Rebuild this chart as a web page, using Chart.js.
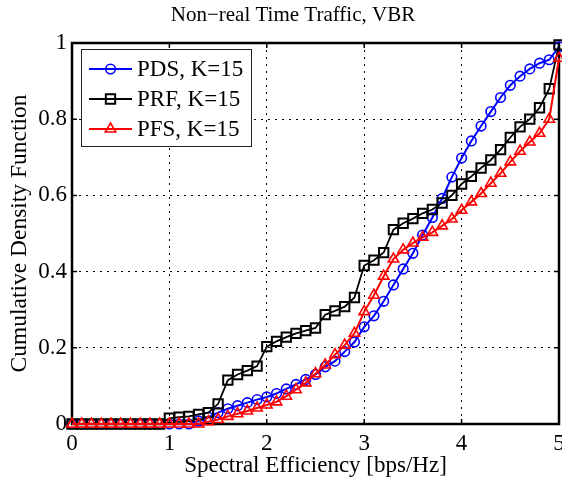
<!DOCTYPE html>
<html>
<head>
<meta charset="utf-8">
<script src="https://cdn.jsdelivr.net/npm/chart.js@4.4.1/dist/chart.umd.min.js"></script>
<style>
  html, body { margin: 0; padding: 0; background: #fff; }
  #wrap { width: 562px; height: 481px; }
</style>
</head>
<body>
<div id="wrap"><canvas id="cdfChart" width="562" height="481"></canvas></div>
<script>
// Chart data
const chartTitle = "Non\u2212real Time Traffic, VBR";
const xAxisTitle = "Spectral Efficiency [bps/Hz]";
const yAxisTitle = "Cumulative Density Function";
const seriesLabels = ["PDS, K=15", "PRF, K=15", "PFS, K=15"];
const xTicks = [0, 1, 2, 3, 4, 5];
const yTicks = [0, 0.2, 0.4, 0.6, 0.8, 1];

const spectralEfficiency = [
  0.0, 0.1, 0.2, 0.3, 0.4, 0.5, 0.6, 0.7, 0.8, 0.9,
  1.0, 1.1, 1.2, 1.3, 1.4, 1.5, 1.6, 1.7, 1.8, 1.9,
  2.0, 2.1, 2.2, 2.3, 2.4, 2.5, 2.6, 2.7, 2.8, 2.9,
  3.0, 3.1, 3.2, 3.3, 3.4, 3.5, 3.6, 3.7, 3.8, 3.9,
  4.0, 4.1, 4.2, 4.3, 4.4, 4.5, 4.6, 4.7, 4.8, 4.9,
  5.0
];
const pdsCdf = [
  0, 0, 0, 0, 0, 0, 0, 0, 0, 0,
  0, 0, 0, 0.008, 0.018, 0.03, 0.04, 0.048, 0.056, 0.064,
  0.071, 0.08, 0.092, 0.104, 0.117, 0.13, 0.15, 0.165, 0.19, 0.215,
  0.255, 0.284, 0.322, 0.365, 0.407, 0.448, 0.496, 0.542, 0.592, 0.648,
  0.698, 0.743, 0.782, 0.82, 0.857, 0.889, 0.913, 0.932, 0.947, 0.956,
  0.99
];
const prfCdf = [
  0, 0, 0, 0, 0, 0, 0, 0, 0, 0,
  0.015, 0.018, 0.02, 0.025, 0.03, 0.053, 0.115, 0.13, 0.14, 0.152,
  0.203, 0.217, 0.228, 0.238, 0.245, 0.252, 0.287, 0.297, 0.308, 0.332,
  0.416, 0.43, 0.45, 0.51, 0.527, 0.539, 0.553, 0.563, 0.58, 0.6,
  0.63, 0.65, 0.672, 0.693, 0.72, 0.752, 0.78, 0.8, 0.83, 0.88,
  0.995
];
const pfsCdf = [
  0, 0, 0, 0, 0, 0, 0, 0, 0, 0,
  0, 0, 0, 0, 0.006, 0.012, 0.02, 0.027, 0.034, 0.042,
  0.05, 0.058, 0.073, 0.09, 0.108, 0.132, 0.155, 0.182, 0.207, 0.238,
  0.295, 0.338, 0.388, 0.433, 0.457, 0.475, 0.49, 0.503, 0.52, 0.538,
  0.561, 0.583, 0.605, 0.632, 0.658, 0.688, 0.716, 0.74, 0.763, 0.8,
  0.96
];

const serif = "'Liberation Serif', 'Times New Roman', serif";

const toPoints = (ys) => spectralEfficiency.map((x, i) => ({ x: x, y: ys[i] }));

// Title drawn over the axes, MATLAB style
const titlePlugin = {
  id: 'matlabTitle',
  afterDraw(chart) {
    const ctx = chart.ctx;
    ctx.save();
    ctx.font = "21px " + serif;
    ctx.fillStyle = '#000';
    ctx.textAlign = 'center';
    ctx.textBaseline = 'middle';
    ctx.fillText(chartTitle, 293, 15);
    ctx.restore();
  }
};

// Axes box and inward tick marks
const boxPlugin = {
  id: 'matlabBox',
  beforeDatasetsDraw(chart) {
    const { ctx, chartArea: a, scales: { x, y } } = chart;
    ctx.save();
    ctx.strokeStyle = '#000';
    ctx.lineWidth = 1.5;
    ctx.beginPath();
    x.ticks.forEach(t => {
      const px = x.getPixelForValue(t.value);
      ctx.moveTo(px, a.bottom); ctx.lineTo(px, a.bottom - 5);
      ctx.moveTo(px, a.top); ctx.lineTo(px, a.top + 5);
    });
    y.ticks.forEach(t => {
      const py = y.getPixelForValue(t.value);
      ctx.moveTo(a.left, py); ctx.lineTo(a.left + 5, py);
      ctx.moveTo(a.right, py); ctx.lineTo(a.right - 5, py);
    });
    ctx.stroke();
    ctx.lineWidth = 2.5;
    ctx.strokeRect(a.left, a.top, a.right - a.left, a.bottom - a.top);
    ctx.restore();
  }
};

// Boxed legend in the upper left corner
const legendPlugin = {
  id: 'matlabLegend',
  afterDatasetsDraw(chart) {
    const ctx = chart.ctx;
    const left = 81, top = 49, w = 170, h = 97;
    ctx.save();
    ctx.fillStyle = '#fff';
    ctx.fillRect(left, top, w, h);
    ctx.strokeStyle = '#222';
    ctx.lineWidth = 1;
    ctx.strokeRect(left + 0.5, top + 0.5, w, h);
    ctx.font = "23px " + serif;
    ctx.textBaseline = 'middle';
    chart.data.datasets.forEach((ds, i) => {
      const yy = top + 20 + i * 30;
      ctx.strokeStyle = ds.borderColor;
      ctx.lineWidth = ds.borderWidth;
      ctx.beginPath();
      ctx.moveTo(left + 8, yy);
      ctx.lineTo(left + 51, yy);
      ctx.stroke();
      ctx.fillStyle = 'rgba(0,0,0,0)';
      ctx.lineWidth = ds.pointBorderWidth;
      Chart.helpers.drawPoint(ctx, {
        pointStyle: ds.pointStyle,
        radius: ds.pointRadius,
        borderWidth: ds.pointBorderWidth,
        rotation: 0
      }, left + 29.5, yy);
      ctx.fillStyle = '#000';
      ctx.fillText(ds.label, left + 56, yy + 1);
    });
    ctx.restore();
  }
};

const ctx = document.getElementById('cdfChart').getContext('2d');

new Chart(ctx, {
  type: 'line',
  data: {
    datasets: [
      {
        label: seriesLabels[0],
        data: toPoints(pdsCdf),
        borderColor: '#0000ff',
        borderWidth: 2,
        pointStyle: 'circle',
        pointRadius: 4.8,
        pointBorderWidth: 1.6,
        pointBorderColor: '#0000ff',
        pointBackgroundColor: 'rgba(0,0,0,0)',
        order: 2
      },
      {
        label: seriesLabels[1],
        data: toPoints(prfCdf),
        borderColor: '#000000',
        borderWidth: 1.8,
        pointStyle: 'rect',
        pointRadius: 6.6,
        pointBorderWidth: 2,
        pointBorderColor: '#000000',
        pointBackgroundColor: 'rgba(0,0,0,0)',
        order: 1
      },
      {
        label: seriesLabels[2],
        data: toPoints(pfsCdf),
        borderColor: '#ff0000',
        borderWidth: 2,
        pointStyle: 'triangle',
        pointRadius: 6,
        pointBorderWidth: 1.6,
        pointBorderColor: '#ff0000',
        pointBackgroundColor: 'rgba(0,0,0,0)',
        order: 0
      }
    ]
  },
  options: {
    responsive: false,
    animation: false,
    clip: false,
    layout: { autoPadding: false, padding: { left: 2, right: 3, top: 43, bottom: 0 } },
    plugins: {
      legend: { display: false },
      title: { display: false },
      tooltip: { enabled: false }
    },
    elements: { line: { tension: 0, fill: false } },
    scales: {
      x: {
        type: 'linear',
        min: 0,
        max: 5,
        afterBuildTicks: (s) => { s.ticks = xTicks.map(v => ({ value: v })); },
        afterFit: (s) => { s.height = 57; s.paddingLeft = 0; s.paddingRight = 0; },
        ticks: {
          color: '#000',
          padding: 6,
          maxRotation: 0,
          font: { family: serif, size: 23 },
          callback: (v) => String(v)
        },
        grid: { color: '#000', lineWidth: 1, drawTicks: false },
        border: { display: false, dash: [2, 5] },
        title: {
          display: true,
          text: xAxisTitle,
          color: '#000',
          font: { family: serif, size: 23 },
          padding: { top: 0, bottom: 1 }
        }
      },
      y: {
        type: 'linear',
        min: 0,
        max: 1,
        afterBuildTicks: (s) => { s.ticks = yTicks.map(v => ({ value: v })); },
        afterFit: (s) => { s.width = 70; },
        ticks: {
          color: '#000',
          padding: 5,
          font: { family: serif, size: 23 },
          callback: (v) => String(+v.toFixed(1))
        },
        grid: { color: '#000', lineWidth: 1, drawTicks: false },
        border: { display: false, dash: [2, 5] },
        title: {
          display: true,
          text: yAxisTitle,
          color: '#000',
          font: { family: serif, size: 23.5 },
          padding: { top: 4, bottom: 0 }
        }
      }
    }
  },
  plugins: [boxPlugin, legendPlugin, titlePlugin]
});
</script>
</body>
</html>
